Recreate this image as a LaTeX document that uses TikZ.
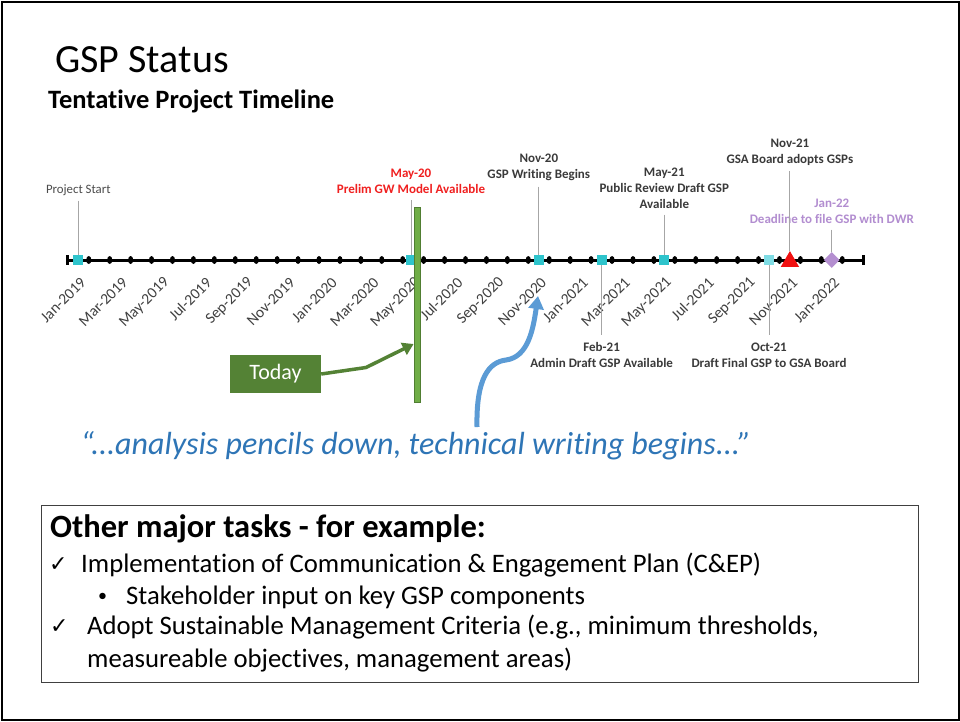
\documentclass[tikz,border=0pt]{standalone}
\usepackage{fontspec}
\setmainfont[Ligatures=NoCommon]{Carlito}
\newfontfamily\symfont{DejaVu Sans}
\usetikzlibrary{arrows.meta,shapes.geometric}
\definecolor{cyanm}{HTML}{2EC4CC}
\definecolor{cyanl}{HTML}{7FDCE4}
\definecolor{redm}{HTML}{F01010}
\definecolor{purm}{HTML}{B48FD0}
\definecolor{annc}{HTML}{3A3A3A}
\definecolor{datec}{HTML}{404040}
\definecolor{redt}{HTML}{F02020}
\definecolor{purt}{HTML}{B28DD0}
\definecolor{barfill}{HTML}{70AD47}
\definecolor{baredge}{HTML}{507E32}
\definecolor{greend}{HTML}{548235}
\definecolor{bluea}{HTML}{5B9BD5}
\definecolor{blueq}{HTML}{2E75B6}
\begin{document}
\begin{tikzpicture}[x=1pt,y=-1pt,
  sq/.style={rectangle, fill=cyanm, minimum size=10pt, inner sep=0},
  tri/.style={regular polygon, regular polygon sides=3, fill=redm, minimum size=21pt, inner sep=0},
  dia/.style={diamond, fill=purm, minimum size=16pt, inner sep=0},
  ann/.style={align=center, inner sep=0, font=\bfseries\fontsize{13}{16}\selectfont, text=annc},
  datelab/.style={inner sep=0, anchor=east, rotate=45, font=\fontsize{15.5}{17}\selectfont, text=datec},
  lead/.style={draw=black!35, line width=1pt},
  garrow/.style={draw=greend, line width=3.5pt, -{Triangle[length=11pt,width=13pt]}},
  barrow/.style={draw=bluea, line width=5pt, -{Triangle[length=13pt,width=15pt]}},
  boxtxt/.style={anchor=west, inner sep=0, font=\fontsize{26.7}{30}\selectfont},
  chk/.style={anchor=west, inner sep=0, font=\symfont\fontsize{22}{24}\selectfont}
]
\useasboundingbox (0,0) rectangle (960,721);
\fill[white] (0,0) rectangle (960,721);
\draw[line width=2pt] (1.5,1.5) rectangle (958.5,719.5);

% titles
\node[anchor=base west, inner sep=0, font=\fontsize{40}{48}\selectfont] (title) at (55,72) {GSP Status};
\node[anchor=base west, inner sep=0, font=\bfseries\fontsize{26.5}{30}\selectfont] (sub) at (48,108) {Tentative Project Timeline};

% axis
\draw[line width=3pt] (67.8,260) -- (863.2,260);
\draw[line width=3pt] (67.8,255) -- (67.8,265);
\draw[line width=3pt] (863.2,255) -- (863.2,265);
\foreach \k in {0,...,36}{
  \pgfmathsetmacro\xx{78.3+20.93*(\k+0.5)}
  \fill (\xx,260) ellipse [x radius=2.6pt, y radius=4pt];
}
\foreach \m/\lab in {0/Jan-2019,2/Mar-2019,4/May-2019,6/Jul-2019,8/Sep-2019,10/Nov-2019,12/Jan-2020,14/Mar-2020,16/May-2020,18/Jul-2020,20/Sep-2020,22/Nov-2020,24/Jan-2021,26/Mar-2021,28/May-2021,30/Jul-2021,32/Sep-2021,34/Nov-2021,36/Jan-2022}{
  \pgfmathsetmacro\xx{78.3+20.93*\m+5}
  \node[datelab] (d\m) at (\xx,280) {\lab};
}

% markers
\node[sq] (ps) at (78.3,260) {};
\node[sq] (m20) at (411,260) {};
\node[sq] (n20) at (538.8,260) {};
\node[sq] (f21) at (601.6,260) {};
\node[sq] (y21) at (664.3,260) {};
\node[sq, fill=cyanl] (o21) at (769,260) {};
\node[tri] (n21) at (789.9,261.5) {};
\node[dia] (j22) at (831.8,260) {};

% annotations
\node[ann, font=\fontsize{12.8}{16}\selectfont, text=black!70] (tps) at (78.3,190) {Project Start};
\node[ann, text=redt] (tm20) at (411,181.5) {May-20\\Prelim GW Model Available};
\node[ann] (tn20) at (538.8,167) {Nov-20\\GSP Writing Begins};
\node[ann] (ty21) at (664.3,188) {May-21\\Public Review Draft GSP\\Available};
\node[ann] (tn21) at (789.9,152) {Nov-21\\GSA Board adopts GSPs};
\node[ann, text=purt] (tj22) at (831.8,211) {Jan-22\\Deadline to file GSP with DWR};
\node[ann] (tf21) at (601.6,355) {Feb-21\\Admin Draft GSP Available};
\node[ann] (to21) at (769,355) {Oct-21\\Draft Final GSP to GSA Board};

\draw[lead] (tps.south) ++(0,5) -- (ps);
\draw[lead] (tm20.south) ++(0,6) -- (m20);
\draw[lead] (tn20.south) ++(0,6) -- (n20);
\draw[lead] (ty21.south) ++(0,6) -- (y21);
\draw[lead] (tn21.south) ++(0,6) -- (n21);
\draw[lead] (tj22.south) ++(0,6) -- (j22);
\draw[lead] (f21) -- ([yshift=7pt]tf21.north);
\draw[lead] (o21) -- ([yshift=7pt]to21.north);

% today bar and box
\node[rectangle, fill=barfill, draw=baredge, line width=0.8pt, minimum width=6pt, minimum height=195pt, inner sep=0] (bar) at (417,304.5) {};
\node[rectangle, fill=greend, minimum width=91pt, minimum height=38pt, inner sep=0, text=white, font=\fontsize{22}{24}\selectfont] (today) at (275.5,374) {Today};
\coordinate (gbend) at (366,367.5);
\draw[garrow] (today.east) -- (gbend) -- ([yshift=-39.5pt]bar.west);

% quote and blue arrow
\node[inner sep=0, text=blueq, font=\itshape\fontsize{32}{36}\selectfont] (quote) at (416,446) {“...analysis pencils down, technical writing begins...”};
\coordinate (qa) at (477,427);
\coordinate (qt) at (538,296);
\draw[barrow] (qa) .. controls (476,378) and (489,362) .. (506,360) .. controls (528,357) and (533,330) .. (qt);

% tasks box
\node[rectangle, draw=black!75, line width=1pt, minimum width=877pt, minimum height=177pt, inner sep=0] (tbox) at (479.5,593.5) {};
\node[anchor=west, inner sep=0, font=\bfseries\fontsize{32.5}{36}\selectfont] (h) at (50,529) {Other major tasks - for example:};
\node[chk] (c1) at (49,565) {✓};
\node[boxtxt] (l1) at (81,565) {Implementation of Communication \& Engagement Plan (C\&EP)};
\node[anchor=west, inner sep=0, font=\fontsize{18}{20}\selectfont] (b1) at (98,597) {•};
\node[boxtxt] (l2) at (126,597) {Stakeholder input on key GSP components};
\node[chk] (c2) at (50,627) {✓};
\node[boxtxt] (l3) at (87,627) {Adopt Sustainable Management Criteria (e.g., minimum thresholds,};
\node[boxtxt] (l4) at (87,660) {measureable objectives, management areas)};
\end{tikzpicture}
\end{document}
